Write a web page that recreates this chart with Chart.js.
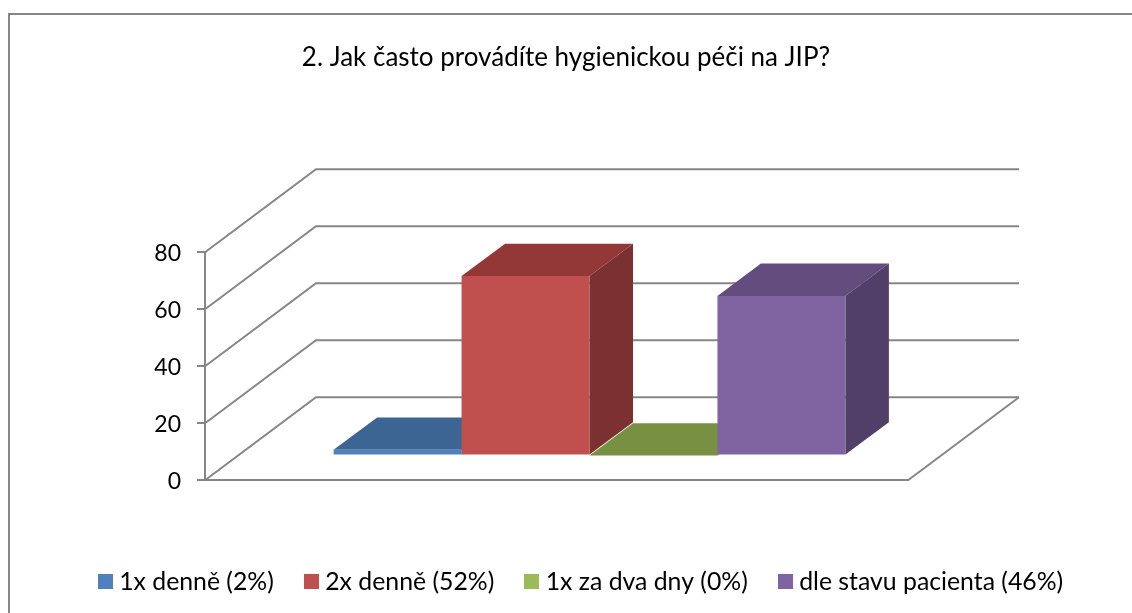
<!DOCTYPE html>
<html>
<head>
<meta charset="utf-8">
<script src="https://cdn.jsdelivr.net/npm/chart.js@4"></script>
<style>
  html, body { margin: 0; padding: 0; background: #fff; overflow: hidden; }
  #frame { position: absolute; left: 8px; top: 13px; right: 0; bottom: 0; border-left: 2px solid #868686; border-top: 2px solid #868686; }
  #myChart { position: absolute; left: 0; top: 0; }
</style>
</head>
<body>
<div id="frame"></div>
<canvas id="myChart" width="1132" height="613"></canvas>
<script>
// data
const categories = ['Hygienická péče'];
const seriesNames = ['1x denně (2%)', '2x denně (52%)', '1x za dva dny (0%)', 'dle stavu pacienta (46%)'];
const seriesValues = [2, 63, 0, 56];
const yTicks = [0, 20, 40, 60, 80];
const titleText = '2. Jak často provádíte hygienickou péči na JIP?';

// colours per series: front, top, side
const frontColors = ['#4f81bd', '#c0504d', '#9bbb59', '#8064a2'];
const topColors = ['#3d6594', '#933837', '#779042', '#624d7e'];
const sideColors = ['#335479', '#7b3130', '#637a36', '#523f68'];
const gridColor = '#868686';

// 3D look
const floorDepth = { x: 111, y: 83 };   // back wall offset from the front plane
const barShift = { x: 33, y: 24.7 };    // bars stand this far into the floor
const barDepth = { x: 43.5, y: 32.3 };  // depth of a bar

function poly(ctx, pts, fill) {
    ctx.beginPath();
    pts.forEach((p, i) => i ? ctx.lineTo(p[0], p[1]) : ctx.moveTo(p[0], p[1]));
    ctx.closePath();
    ctx.fillStyle = fill;
    ctx.fill();
}

// legend swatch as an image, so the text can sit closer to it than Chart.js allows
function swatch(color) {
    const c = document.createElement('canvas');
    c.width = 15;
    c.height = 15;
    const g = c.getContext('2d');
    g.fillStyle = color;
    g.fillRect(0, 0, 15, 15);
    return c;
}

const fake3d = {
    id: 'fake3d',
    afterLayout(chart) {
        // legend sits off-centre in the reference
        const lg = chart.legend;
        lg.left += 17.5;
        lg.right += 17.5;
        lg.top -= 9;
        lg.bottom -= 9;
    },
    beforeDatasetsDraw(chart) {
        const ctx = chart.ctx;
        const a = chart.chartArea;
        const y = chart.scales.y;

        // side wall + back wall lines
        ctx.save();
        ctx.strokeStyle = gridColor;
        ctx.lineWidth = 2;
        yTicks.forEach(v => {
            const py = y.getPixelForValue(v);
            ctx.beginPath();
            ctx.moveTo(a.left, py);
            ctx.lineTo(a.left + floorDepth.x, py - floorDepth.y);
            ctx.lineTo(a.right + floorDepth.x, py - floorDepth.y);
            ctx.stroke();
        });
        // right edge of the floor
        ctx.beginPath();
        ctx.moveTo(a.right, a.bottom);
        ctx.lineTo(a.right + floorDepth.x, a.bottom - floorDepth.y);
        ctx.stroke();
        ctx.restore();

        const bars = chart.data.datasets.map((d, i) => {
            const el = chart.getDatasetMeta(i).data[0];
            return {
                l: el.x - el.width / 2 + barShift.x,
                r: el.x + el.width / 2 + barShift.x,
                t: el.y - barShift.y,
                b: el.base - barShift.y
            };
        });

        // tops first, then sides, so the red side covers the green top
        bars.forEach((b, i) => poly(ctx, [
            [b.l, b.t], [b.r, b.t],
            [b.r + barDepth.x, b.t - barDepth.y], [b.l + barDepth.x, b.t - barDepth.y]
        ], topColors[i]));
        bars.forEach((b, i) => poly(ctx, [
            [b.r, b.t], [b.r + barDepth.x, b.t - barDepth.y],
            [b.r + barDepth.x, b.b - barDepth.y], [b.r, b.b]
        ], sideColors[i]));

        // front faces are the library's own bars, pushed into the floor
        ctx.save();
        ctx.translate(barShift.x, -barShift.y);
    },
    afterDatasetsDraw(chart) {
        chart.ctx.restore();
    }
};

function createChart() {
    const ctx = document.getElementById('myChart');
    new Chart(ctx, {
        type: 'bar',
        data: {
            labels: categories,
            datasets: seriesNames.map((name, i) => ({
                label: name,
                data: [seriesValues[i]],
                backgroundColor: frontColors[i],
                borderWidth: 0,
                clip: false,
                barPercentage: 1,
                categoryPercentage: 0.728
            }))
        },
        options: {
            responsive: false,
            animation: false,
            layout: { padding: 0 },
            scales: {
                x: {
                    afterFit(scale) { scale.height = 62; },
                    ticks: { display: false },
                    grid: { display: false },
                    border: { color: gridColor, width: 2 }
                },
                y: {
                    min: 0,
                    max: 80,
                    afterFit(scale) { scale.width = 205; },
                    afterBuildTicks(scale) { scale.ticks = yTicks.map(v => ({ value: v })); },
                    ticks: { color: '#000', font: { family: 'Lato', size: 23 }, padding: 16, labelOffset: 1.5 },
                    grid: { drawOnChartArea: false, color: gridColor, lineWidth: 2, tickLength: 8 },
                    border: { color: gridColor, width: 2 }
                },
                // empty axis, keeps room for the floor and back wall on the right
                rightRoom: {
                    axis: 'y',
                    position: 'right',
                    afterFit(scale) { scale.width = 224; },
                    ticks: { display: false },
                    grid: { display: false },
                    border: { display: false }
                }
            },
            plugins: {
                title: {
                    display: true,
                    text: titleText,
                    color: '#000',
                    font: { family: 'Lato', size: 26, weight: 'normal' },
                    padding: { top: 42, bottom: 179 }
                },
                legend: {
                    position: 'bottom',
                    labels: {
                        color: '#000',
                        font: { family: 'Lato', size: 24.8 },
                        usePointStyle: true,
                        pointStyleWidth: 3,
                        padding: 36,
                        generateLabels(chart) {
                            return Chart.defaults.plugins.legend.labels.generateLabels(chart).map((item, i) => {
                                item.pointStyle = swatch(frontColors[i]);
                                return item;
                            });
                        }
                    }
                },
                tooltip: { enabled: false }
            }
        },
        plugins: [fake3d]
    });
}

createChart();
</script>
</body>
</html>
